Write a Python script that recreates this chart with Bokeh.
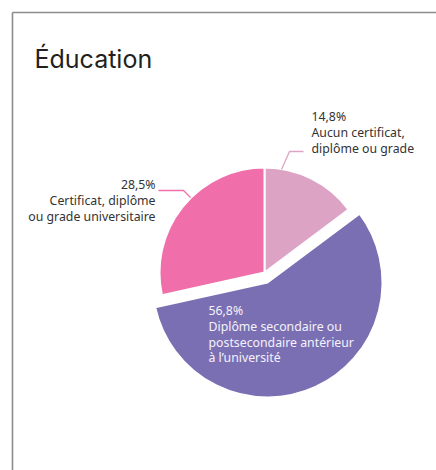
import numpy as np
from bokeh.plotting import figure
from bokeh.models import Range1d, ColumnDataSource
from bokeh.core.properties import value
from bokeh.embed import file_html
from bokeh.resources import INLINE

# ---- data (clockwise from 12 o'clock) ----
title = "Éducation"
categories = ["Aucun certificat, diplôme ou grade",
              "Diplôme secondaire ou postsecondaire antérieur à l’université",
              "Certificat, diplôme ou grade universitaire"]
shares = [14.8, 56.8, 28.5]
label_lines = [["Aucun certificat,", "diplôme ou grade"],
               ["Diplôme secondaire ou", "postsecondaire antérieur", "à l’université"],
               ["Certificat, diplôme", "ou grade universitaire"]]

# ---- styles / layout ----
colors = ["#dca3c5", "#7b6fb4", "#f06eaa"]
W, H = 436, 470
def Y(py):               # picture pixel y -> data y
    return H - py

centers = [(264, 272), (267, 282), (264, 272)]
radii = [105, 115, 105]
label_pos = [(311, 116, "left", "#333333"),
             (208, 310, "left", "#f4f2fa"),
             (155, 184, "right", "#333333")]
line_h = 15.8
leaders = [([303, 289, 281], [151, 151, 169]),
           None,
           ([158, 183, 190], [190, 190, 197])]

p = figure(width=W, height=H, output_backend="svg", toolbar_location=None,
           x_range=Range1d(0, W), y_range=Range1d(0, H),
           min_border=0)
p.axis.visible = False
p.grid.visible = False
p.outline_line_color = None
p.background_fill_color = "white"
p.border_fill_color = "white"

# frame (top + left)
p.line([12, W], [Y(12), Y(12)], line_color="#8c8c8c", line_width=1.6)
p.line([12, 12], [Y(12), Y(H)], line_color="#8c8c8c", line_width=1.6)

# wedges
total = float(sum(shares))
cum = np.concatenate([[0], np.cumsum(shares)]) / total * 360.0
starts = np.deg2rad(90 - cum[1:])
ends = np.deg2rad(90 - cum[:-1])
src = ColumnDataSource(dict(
    x=[c[0] for c in centers], y=[Y(c[1]) for c in centers], r=radii,
    s=starts, e=ends, color=colors, cat=categories))
p.wedge(x="x", y="y", radius="r", start_angle="s", end_angle="e",
        fill_color="color", line_color="white", line_width=2, source=src)

# leader lines
for i, ld in enumerate(leaders):
    if ld is None:
        continue
    p.line(ld[0], [Y(v) for v in ld[1]], line_color=colors[i], line_width=1.3)

# labels
for i, (v, lines) in enumerate(zip(shares, label_lines)):
    lx, ly, align, col = label_pos[i]
    texts = [f"{v:.1f}".replace(".", ",") + "%"] + lines
    ys = [Y(ly + k * line_h) for k in range(len(texts))]
    p.text(x=[lx] * len(texts), y=ys, text=texts, text_align=align,
           text_baseline="middle", text_color=col, text_font_size="12.3px",
           text_font=value("Noto Sans"))

# title
p.text(x=[34], y=[Y(58)], text=[title], text_align="left", text_baseline="middle",
       text_color="#231f20", text_font_size="25px", text_font=value("Inter"))

open("out.html", "w").write(file_html(p, INLINE))
